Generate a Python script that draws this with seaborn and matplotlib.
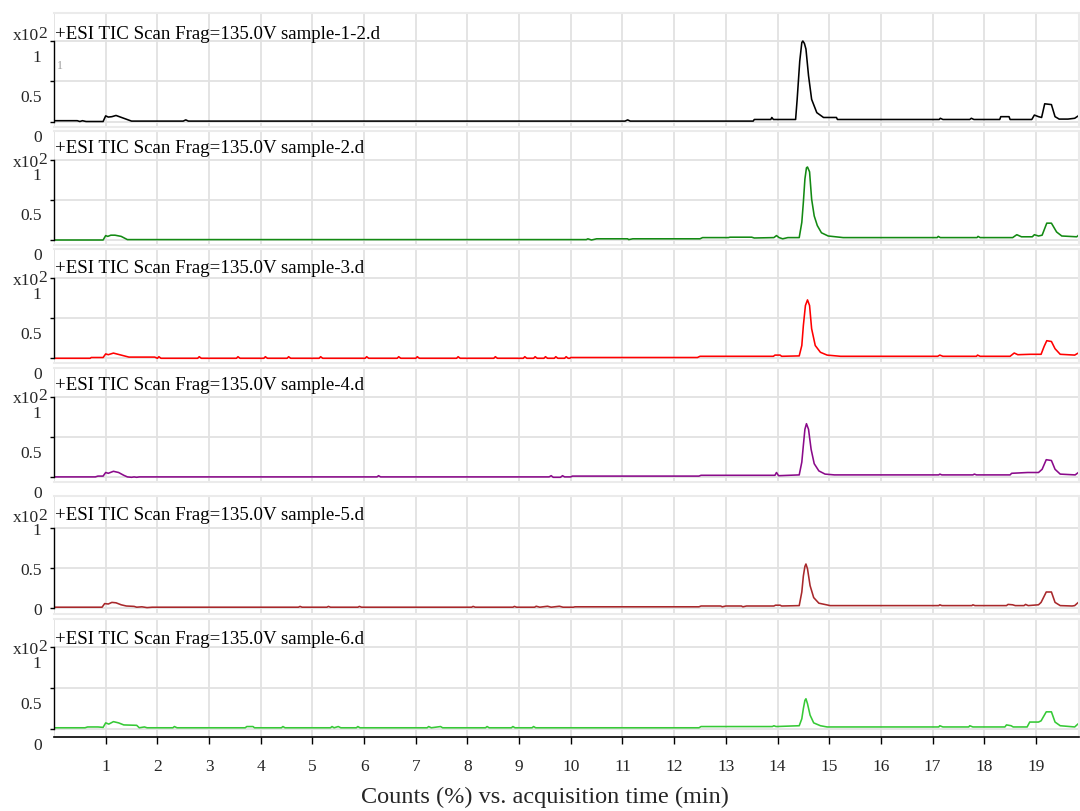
import matplotlib
matplotlib.use("Agg")
import matplotlib.pyplot as plt
from matplotlib.transforms import ScaledTranslation
import seaborn as sns
import pandas as pd

# ---------------------------------------------------------------------------
# Total ion chromatograms: (acquisition time [min], counts [x10^2 %]) pairs
# ---------------------------------------------------------------------------
sample_names = ["sample-1-2.d", "sample-2.d", "sample-3.d",
                "sample-4.d", "sample-5.d", "sample-6.d"]

tic_sample_1_2 = [
    (0.00, 0.010), (0.45, 0.010), (0.50, 0.000), (0.55, 0.010), (0.62, 0.000),
    (0.95, 0.000), (1.00, 0.070), (1.05, 0.055), (1.12, 0.060), (1.20, 0.075),
    (1.35, 0.040), (1.50, 0.005), (2.50, 0.005), (2.55, 0.020), (2.60, 0.005),
    (11.05, 0.005), (11.10, 0.020), (11.15, 0.005), (13.53, 0.005), (13.55, 0.025),
    (13.87, 0.025), (13.89, 0.050), (13.92, 0.025), (14.35, 0.025), (14.38, 0.275),
    (14.43, 0.750), (14.47, 0.980), (14.49, 1.000), (14.52, 0.970), (14.55, 0.900),
    (14.60, 0.570), (14.66, 0.275), (14.76, 0.110), (14.89, 0.050), (15.14, 0.050),
    (15.16, 0.025), (17.13, 0.025), (17.15, 0.040), (17.20, 0.025), (17.72, 0.025),
    (17.75, 0.040), (17.80, 0.025), (18.30, 0.025), (18.32, 0.060), (18.48, 0.060),
    (18.50, 0.025), (18.92, 0.025), (18.97, 0.080), (19.05, 0.060), (19.11, 0.050),
    (19.17, 0.220), (19.30, 0.210), (19.37, 0.060), (19.45, 0.030), (19.62, 0.030),
    (19.75, 0.040), (19.82, 0.070),
]

tic_sample_2 = [
    (0.00, 0.000), (0.95, 0.000), (1.00, 0.055), (1.04, 0.045), (1.10, 0.060),
    (1.18, 0.060), (1.30, 0.045), (1.42, 0.005), (10.30, 0.005), (10.33, 0.015),
    (10.40, 0.000), (10.50, 0.015), (11.10, 0.015), (11.12, 0.005), (11.20, 0.015),
    (12.50, 0.015), (12.55, 0.030), (13.05, 0.030), (13.08, 0.035), (13.50, 0.035),
    (13.55, 0.025), (13.93, 0.030), (13.98, 0.055), (14.03, 0.030), (14.10, 0.015),
    (14.20, 0.030), (14.42, 0.030), (14.47, 0.220), (14.50, 0.470), (14.53, 0.760),
    (14.56, 0.900), (14.58, 0.910), (14.62, 0.850), (14.66, 0.510), (14.71, 0.300),
    (14.77, 0.180), (14.85, 0.090), (14.98, 0.050), (15.27, 0.030), (17.09, 0.030),
    (17.11, 0.045), (17.15, 0.030), (17.86, 0.030), (17.88, 0.045), (17.92, 0.030),
    (18.55, 0.030), (18.63, 0.066), (18.72, 0.040), (18.93, 0.040), (18.97, 0.066),
    (19.05, 0.050), (19.12, 0.060), (19.21, 0.210), (19.30, 0.210), (19.40, 0.100),
    (19.50, 0.050), (19.79, 0.040), (19.85, 0.075),
]

tic_sample_3 = [
    (0.00, 0.000), (0.70, 0.000), (0.72, 0.010), (0.95, 0.010), (1.00, 0.055),
    (1.05, 0.045), (1.15, 0.065), (1.30, 0.040), (1.45, 0.015), (1.95, 0.015),
    (2.00, 0.000), (2.03, 0.020), (2.07, 0.000), (2.78, 0.000), (2.81, 0.020),
    (2.85, 0.000), (3.53, 0.000), (3.56, 0.020), (3.60, 0.000), (4.06, 0.000),
    (4.09, 0.020), (4.13, 0.000), (4.51, 0.000), (4.54, 0.020), (4.58, 0.000),
    (5.13, 0.000), (5.16, 0.020), (5.20, 0.000), (6.02, 0.000), (6.05, 0.020),
    (6.09, 0.000), (6.64, 0.000), (6.67, 0.020), (6.71, 0.000), (7.00, 0.000),
    (7.03, 0.020), (7.07, 0.000), (7.79, 0.000), (7.82, 0.020), (7.86, 0.000),
    (8.51, 0.000), (8.54, 0.020), (8.58, 0.000), (9.08, 0.000), (9.11, 0.020),
    (9.15, 0.000), (9.28, 0.000), (9.31, 0.020), (9.35, 0.000), (9.48, 0.000),
    (9.51, 0.020), (9.55, 0.000), (9.68, 0.000), (9.71, 0.020), (9.75, 0.000),
    (9.88, 0.000), (9.91, 0.020), (9.95, 0.000), (9.98, 0.000), (10.00, 0.010),
    (12.45, 0.010), (12.50, 0.025), (13.92, 0.025), (13.95, 0.040), (14.05, 0.040),
    (14.08, 0.025), (14.42, 0.030), (14.47, 0.160), (14.50, 0.410), (14.54, 0.660),
    (14.58, 0.730), (14.62, 0.660), (14.66, 0.370), (14.73, 0.160), (14.83, 0.075),
    (14.96, 0.040), (15.22, 0.025), (17.10, 0.025), (17.14, 0.040), (17.20, 0.025),
    (17.85, 0.025), (17.87, 0.040), (17.92, 0.025), (18.50, 0.025), (18.58, 0.066),
    (18.65, 0.045), (18.89, 0.050), (19.10, 0.050), (19.16, 0.150), (19.21, 0.220),
    (19.30, 0.210), (19.37, 0.120), (19.47, 0.050), (19.75, 0.040), (19.82, 0.066),
]

tic_sample_4 = [
    (0.00, 0.005), (0.80, 0.005), (0.85, 0.015), (0.95, 0.015), (1.00, 0.060),
    (1.05, 0.050), (1.15, 0.075), (1.25, 0.060), (1.35, 0.025), (1.42, 0.005),
    (1.50, 0.000), (1.55, 0.005), (1.60, 0.000), (1.65, 0.005), (6.25, 0.005),
    (6.28, 0.020), (6.32, 0.005), (9.58, 0.005), (9.62, 0.020), (9.66, 0.000),
    (9.80, 0.000), (9.84, 0.020), (9.88, 0.005), (10.00, 0.005), (10.03, 0.015),
    (12.48, 0.015), (12.52, 0.025), (13.95, 0.025), (13.98, 0.060), (14.02, 0.020),
    (14.42, 0.030), (14.47, 0.190), (14.50, 0.400), (14.53, 0.600), (14.56, 0.670),
    (14.60, 0.600), (14.65, 0.350), (14.71, 0.170), (14.80, 0.080), (14.92, 0.040),
    (15.10, 0.030), (17.12, 0.030), (17.14, 0.040), (17.18, 0.030), (17.78, 0.030),
    (17.81, 0.040), (17.85, 0.030), (18.50, 0.030), (18.53, 0.050), (18.84, 0.060),
    (19.05, 0.060), (19.12, 0.100), (19.20, 0.220), (19.30, 0.210), (19.37, 0.100),
    (19.47, 0.040), (19.76, 0.030), (19.82, 0.060),
]

tic_sample_5 = [
    (0.00, 0.010), (0.93, 0.010), (0.98, 0.055), (1.05, 0.050), (1.12, 0.070),
    (1.20, 0.065), (1.30, 0.040), (1.40, 0.025), (1.55, 0.020), (1.60, 0.010),
    (1.70, 0.015), (1.80, 0.005), (1.90, 0.010), (4.73, 0.010), (4.76, 0.020),
    (4.80, 0.010), (5.28, 0.010), (5.31, 0.020), (5.35, 0.010), (5.88, 0.010),
    (5.91, 0.020), (5.95, 0.010), (8.08, 0.010), (8.11, 0.020), (8.15, 0.010),
    (8.88, 0.010), (8.91, 0.020), (8.95, 0.010), (9.30, 0.010), (9.33, 0.022),
    (9.40, 0.010), (9.55, 0.022), (9.62, 0.010), (9.78, 0.022), (9.85, 0.010),
    (10.05, 0.010), (10.08, 0.015), (12.48, 0.015), (12.52, 0.025), (12.90, 0.025),
    (12.93, 0.015), (13.00, 0.025), (13.30, 0.025), (13.33, 0.015), (13.40, 0.025),
    (13.93, 0.025), (13.96, 0.035), (14.05, 0.035), (14.08, 0.025), (14.42, 0.030),
    (14.47, 0.200), (14.50, 0.400), (14.53, 0.520), (14.55, 0.550), (14.58, 0.490),
    (14.63, 0.280), (14.70, 0.130), (14.80, 0.060), (15.02, 0.030), (17.12, 0.030),
    (17.14, 0.040), (17.18, 0.030), (17.76, 0.030), (17.78, 0.040), (17.82, 0.030),
    (18.43, 0.030), (18.46, 0.045), (18.55, 0.040), (18.60, 0.030), (18.77, 0.030),
    (18.80, 0.045), (18.85, 0.030), (19.05, 0.040), (19.10, 0.070), (19.20, 0.200),
    (19.30, 0.200), (19.37, 0.070), (19.47, 0.030), (19.70, 0.025), (19.75, 0.030),
    (19.82, 0.070),
]

tic_sample_6 = [
    (0.00, 0.015), (0.60, 0.015), (0.65, 0.025), (0.85, 0.025), (0.95, 0.020),
    (1.00, 0.075), (1.06, 0.060), (1.15, 0.090), (1.25, 0.075), (1.35, 0.050),
    (1.60, 0.045), (1.65, 0.015), (1.75, 0.025), (1.80, 0.015), (2.30, 0.015),
    (2.33, 0.030), (2.38, 0.015), (3.70, 0.015), (3.73, 0.030), (3.85, 0.030),
    (3.88, 0.015), (4.40, 0.015), (4.43, 0.030), (4.47, 0.015), (5.35, 0.015),
    (5.38, 0.030), (5.42, 0.015), (5.50, 0.030), (5.55, 0.015), (5.85, 0.015),
    (5.88, 0.030), (5.92, 0.015), (7.22, 0.015), (7.25, 0.030), (7.30, 0.015),
    (7.48, 0.030), (7.52, 0.015), (8.35, 0.015), (8.38, 0.030), (8.42, 0.015),
    (8.85, 0.015), (8.88, 0.030), (8.92, 0.015), (9.25, 0.015), (9.28, 0.030),
    (9.32, 0.015), (12.48, 0.015), (12.52, 0.030), (13.90, 0.030), (13.93, 0.040),
    (13.97, 0.030), (14.42, 0.040), (14.47, 0.125), (14.50, 0.250), (14.53, 0.350),
    (14.55, 0.370), (14.58, 0.310), (14.63, 0.170), (14.70, 0.075), (14.83, 0.040),
    (14.96, 0.025), (17.12, 0.025), (17.14, 0.040), (17.20, 0.025), (17.70, 0.025),
    (17.72, 0.040), (17.78, 0.025), (18.40, 0.025), (18.43, 0.050), (18.52, 0.040),
    (18.56, 0.025), (18.83, 0.025), (18.88, 0.085), (19.05, 0.085), (19.10, 0.100),
    (19.20, 0.210), (19.30, 0.210), (19.37, 0.085), (19.47, 0.040), (19.75, 0.025),
    (19.82, 0.065),
]

traces = [tic_sample_1_2, tic_sample_2, tic_sample_3,
          tic_sample_4, tic_sample_5, tic_sample_6]
time_ticks = list(range(1, 20))
count_ticks = [0, 0.5, 1]
count_tick_labels = ["0", "0.5", "1"]

line_colors = ["#000000", "#138a13", "#ff0000", "#8a0a8a", "#a8282b", "#36c936"]

# long-form table for seaborn
frames = []
for name, trace in zip(sample_names, traces):
    t, c = zip(*trace)
    frames.append(pd.DataFrame({"sample": name, "time": t, "counts": c}))
tic = pd.concat(frames, ignore_index=True)

# ---------------------------------------------------------------------------
# Figure
# ---------------------------------------------------------------------------
sns.set_theme(style="white")
plt.rcParams["font.family"] = ["Liberation Serif", "DejaVu Serif"]

W, H = 1080, 812
fig = plt.figure(figsize=(W / 100, H / 100), dpi=100)

X_LEFT, X_RIGHT = 54, 1079
PX_PER_MIN = 51.68
# panel boxes in pixels: (box top, y=1 position, y=0 position, box bottom)
panel_px = [
    (14.0, 42.0, 122.5, 128.3),
    (131.7, 160.8, 241.0, 246.0),
    (250.0, 279.3, 359.3, 364.0),
    (369.3, 398.3, 478.3, 483.3),
    (497.3, 529.0, 609.0, 615.0),
    (620.0, 648.3, 730.0, 738.3),
]
title_baseline_px = [39, 153, 273, 390, 520, 644]
scale_label_px = [36, 163, 281, 399, 518, 650]
label_shift_px = [13.5, 13.5, 13.5, 13.5, 0.0, 13.5]

grid_color = "#e2e2e2"
frame_color = "#ebebeb"
font_size = 12.5

axes = []
for i, (name, color) in enumerate(zip(sample_names, line_colors)):
    top, y1, y0, bottom = panel_px[i]
    ax = fig.add_axes([X_LEFT / W, 1 - bottom / H,
                       (X_RIGHT - X_LEFT) / W, (bottom - top) / H])
    axes.append(ax)
    sns.lineplot(data=tic[tic["sample"] == name], x="time", y="counts",
                 color=color, lw=1.15, estimator=None, sort=False, ax=ax)

    s = y0 - y1
    ax.set_xlim(0, (X_RIGHT - X_LEFT) / PX_PER_MIN)
    ax.set_ylim(-(bottom - y0) / s, 1 + (y1 - top) / s)

    ax.set_xticks(time_ticks)
    ax.set_yticks(count_ticks)
    ax.set_yticklabels(count_tick_labels)
    ax.grid(True, color=grid_color, lw=1.3)
    ax.axvline(0, color=grid_color, lw=1.3, zorder=0)
    ax.set_axisbelow(True)
    ax.set_xlabel("")
    ax.set_ylabel("")

    for side in ("top", "right", "bottom"):
        ax.spines[side].set_color(frame_color)
        ax.spines[side].set_linewidth(1.5)
    ax.spines["left"].set_color("black")
    ax.spines["left"].set_linewidth(1.0)
    ax.spines["left"].set_bounds(0, 1)

    ax.tick_params(axis="y", direction="out", length=3, width=1.0,
                   color="black", pad=6, labelsize=font_size, left=True)
    if i < 5:
        ax.tick_params(axis="x", bottom=False, labelbottom=False)
    else:
        ax.spines["bottom"].set_color("black")
        ax.spines["bottom"].set_linewidth(1.2)
        ax.tick_params(axis="x", direction="out", length=5, width=1.0,
                       color="black", pad=10, labelsize=font_size, bottom=True)

    # tick labels sit a little below their tick marks
    shift = ScaledTranslation(0, -label_shift_px[i] / 100, fig.dpi_scale_trans)
    for tick in ax.yaxis.get_major_ticks():
        tick.label1.set_transform(tick.label1.get_transform() + shift)

    fig.text(55 / W, 1 - title_baseline_px[i] / H,
             f"+ESI TIC Scan Frag=135.0V {name}",
             ha="left", va="baseline", fontsize=13.6, color="black")

    base = fig.text(13 / W, 1 - scale_label_px[i] / H, "x10",
                    ha="left", va="center", fontsize=font_size)
    ax.annotate("2", xy=(1, 0), xycoords=base, xytext=(-1, 2.5),
                textcoords="offset pixels", ha="left", va="bottom",
                fontsize=font_size)

# small grey trace marker in the first panel
axes[0].annotate("1", xy=(0, 0.70), xycoords=("axes fraction", "data"),
                 xytext=(3, 0), textcoords="offset pixels",
                 ha="left", va="center", fontsize=8.5, color="#9a9a9a")

axes[-1].set_xlabel("Counts (%) vs. acquisition time (min)", fontsize=17.5,
                    va="center")
axes[-1].xaxis.set_label_coords(0.479, -0.50)

fig.savefig("out.png", dpi=100)
